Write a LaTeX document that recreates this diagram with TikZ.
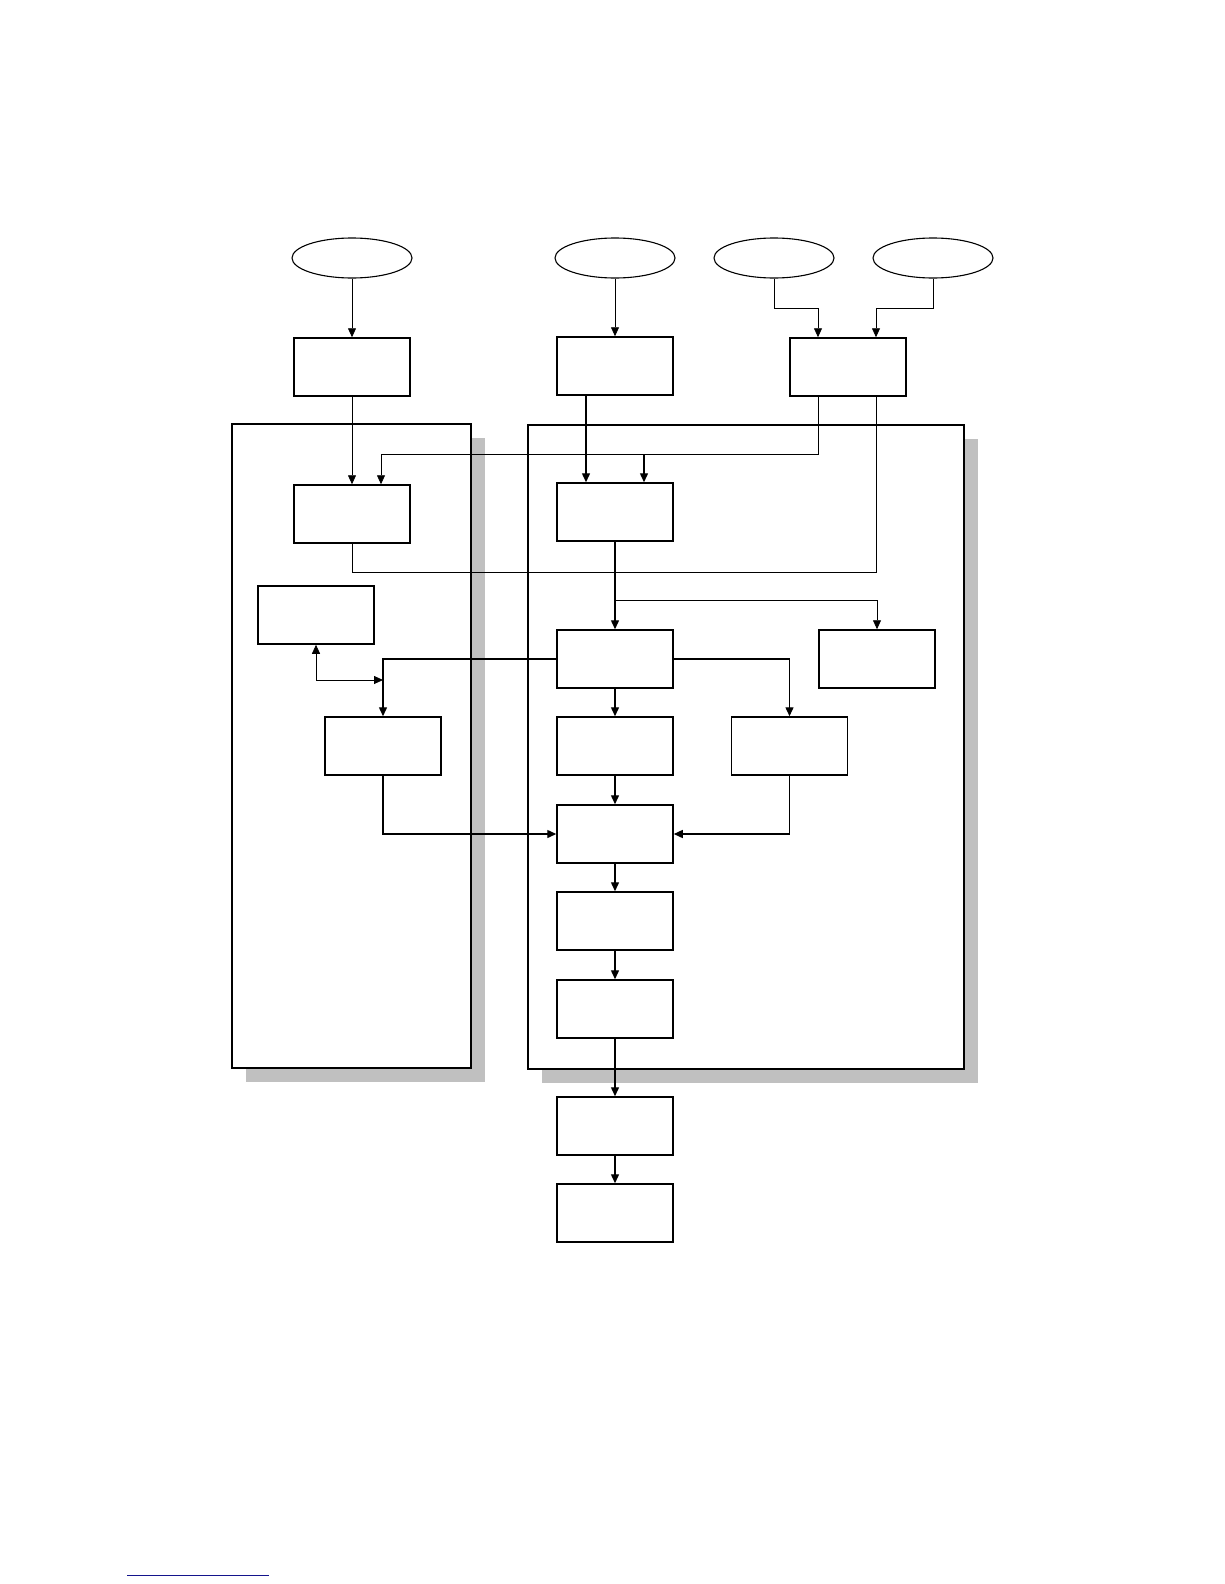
\documentclass[tikz,border=0pt]{standalone}
\usetikzlibrary{arrows.meta,calc,shapes.geometric}
\definecolor{shadowgray}{RGB}{192,192,192}
\definecolor{linkblue}{RGB}{20,20,140}
\begin{document}
\begin{tikzpicture}[x=1pt,y=-1pt,
  box/.style={draw, line width=1.5pt, minimum width=116pt, minimum height=58pt, inner sep=0pt, fill=white},
  oval/.style={ellipse, draw, line width=1.1pt, minimum width=120pt, minimum height=40pt, inner sep=0pt},
  thinc/.style={line width=0.8pt},
  thickc/.style={line width=1.4pt},
  frame/.style={draw, line width=1.4pt, fill=white},
  >={Triangle[length=9pt,width=8pt]}]
\useasboundingbox (0,0) rectangle (1224,1584);
% containers with shadows
\fill[shadowgray] (246,438) rectangle (485,1082);
\fill[shadowgray] (542,439) rectangle (978,1083);
\path[frame] (232,424) rectangle (471,1068);
\path[frame] (528,425) rectangle (964,1069);
% ovals
\node[oval] (e1) at (352,258) {};
\node[oval] (e2) at (615,258) {};
\node[oval] (e3) at (774,258) {};
\node[oval] (e4) at (933,258) {};
% boxes
\node[box] (a) at (352,367) {};
\node[box] (b) at (615,366) {};
\node[box] (f) at (848,367) {};
\node[box] (c) at (352,514) {};
\node[box] (d) at (615,512) {};
\node[box] (g) at (316,615) {};
\node[box] (e) at (615,659) {};
\node[box] (k) at (877,659) {};
\node[box] (h) at (383,746) {};
\node[box] (m1) at (615,746) {};
\node[box] (i) at (789.5,746) {};
\node[box] (j) at (615,834) {};
\node[box] (l) at (615,921) {};
\node[box] (m) at (615,1009) {};
\node[box] (n) at (615,1126) {};
\node[box] (o) at (615,1213) {};
% helper coordinates
\coordinate (y454) at (0,454);
\coordinate (y600) at (0,600);
\coordinate (y680) at (0,680);
\coordinate (cin) at ([xshift=29pt]c.north);
\coordinate (din) at ([xshift=29pt]d.north);
% connectors
\draw[thinc,->] (e1) -- (a);
\draw[thinc,->] (a) -- (c);
\draw[thinc,->] (e2) -- (b);
\draw[thinc,->] (e3.south) -- ++(0,30) -| ([xshift=-30pt]f.north);
\draw[thinc,->] (e4.south) -- ++(0,30) -| ([xshift=28pt]f.north);
\draw[thinc,->] ([xshift=-30pt]f.south) |- (cin |- y454) -- (cin);
\draw[thickc,->] (din |- y454) -- (din);
\draw[thickc,->] ([xshift=-29pt]b.south) -- ([xshift=-29pt]d.north);
\draw[thinc] (c.south) -- ++(0,29) -| ([xshift=28pt]f.south);
\draw[thickc,->] (d) -- (e);
\draw[thinc,->] (d.south |- y600) -| (k.north);
\draw[thickc,->] (e.west) -| (h.north);
\draw[thickc,->] (e.east) -| (i.north);
\draw[thickc,->] (e) -- (m1);
\draw[thickc,->] (m1) -- (j);
\draw[thinc,<->] (g.south) |- (h.north |- y680);
\draw[thickc,->] (h.south) |- (j.west);
\draw[thickc,->] (i.south) |- (j.east);
\draw[thickc,->] (j) -- (l);
\draw[thickc,->] (l) -- (m);
\draw[thickc,->] (m) -- (n);
\draw[thickc,->] (n) -- (o);
% footnote rule
\draw[linkblue, line width=1pt] (127,1575) -- (269,1575);
\end{tikzpicture}
\end{document}
